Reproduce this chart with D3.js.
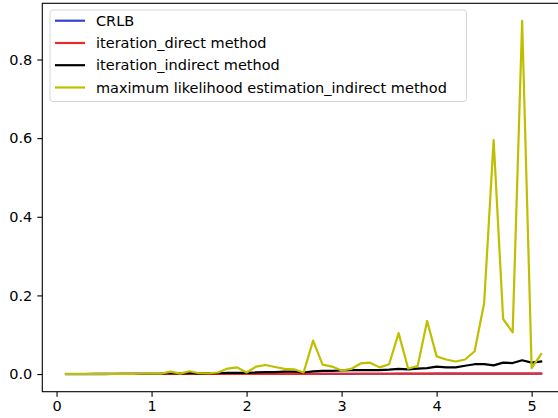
<!DOCTYPE html>
<html><head><meta charset="utf-8">
<script src="https://cdn.jsdelivr.net/npm/d3@7"></script>
<style>body{margin:0;background:#fff}svg{display:block}text{font-family:"DejaVu Sans",sans-serif}</style>
</head><body><svg id="c" width="558" height="418"></svg>
<script>
const xValues = [0.1,0.2,0.3,0.4,0.5,0.6,0.7,0.8,0.9,1.0,1.1,1.2,1.3,1.4,1.5,1.6,1.7,1.8,1.9,2.0,2.1,2.2,2.3,2.4,2.5,2.6,2.7,2.8,2.9,3.0,3.1,3.2,3.3,3.4,3.5,3.6,3.7,3.8,3.9,4.0,4.1,4.2,4.3,4.4,4.5,4.6,4.7,4.8,4.9,5.0,5.1];
const crlb = [0.0000,0.0000,0.0000,0.0000,0.0000,0.0001,0.0001,0.0001,0.0001,0.0001,0.0001,0.0002,0.0002,0.0002,0.0002,0.0003,0.0003,0.0003,0.0003,0.0004,0.0004,0.0004,0.0004,0.0005,0.0005,0.0005,0.0005,0.0006,0.0006,0.0006,0.0006,0.0007,0.0007,0.0007,0.0007,0.0008,0.0008,0.0008,0.0008,0.0009,0.0009,0.0009,0.0009,0.0009,0.0010,0.0010,0.0010,0.0010,0.0010,0.0011,0.0011];
const iterDirect = [0.0001,0.0001,0.0001,0.0001,0.0001,0.0001,0.0002,0.0002,0.0002,0.0002,0.0002,0.0003,0.0003,0.0003,0.0003,0.0004,0.0004,0.0004,0.0004,0.0005,0.0005,0.0005,0.0005,0.0006,0.0006,0.0006,0.0006,0.0007,0.0007,0.0007,0.0007,0.0008,0.0008,0.0008,0.0008,0.0009,0.0009,0.0009,0.0009,0.0010,0.0010,0.0010,0.0010,0.0010,0.0011,0.0011,0.0011,0.0011,0.0011,0.0012,0.0012];
const iterIndirect = [0.0001,0.0001,0.0001,0.0002,0.0002,0.0002,0.0003,0.0003,0.0004,0.0005,0.0010,0.0030,0.0010,0.0030,0.0010,0.0020,0.0020,0.0030,0.0030,0.0030,0.0040,0.0050,0.0050,0.0060,0.0060,0.0040,0.0070,0.0080,0.0080,0.0090,0.0100,0.0100,0.0100,0.0100,0.0110,0.0130,0.0120,0.0140,0.0150,0.0190,0.0170,0.0170,0.0210,0.0250,0.0250,0.0220,0.0290,0.0280,0.0350,0.0290,0.0320];
const mleIndirect = [0.0002,0.0002,0.0002,0.0003,0.0003,0.0003,0.0004,0.0005,0.0008,0.0010,0.0010,0.0060,0.0010,0.0070,0.0020,0.0020,0.0040,0.0140,0.0170,0.0040,0.0190,0.0230,0.0180,0.0130,0.0120,0.0040,0.0850,0.0240,0.0190,0.0090,0.0130,0.0270,0.0290,0.0170,0.0250,0.1040,0.0140,0.0200,0.1350,0.0450,0.0370,0.0320,0.0370,0.0580,0.1800,0.5950,0.1400,0.1060,0.8980,0.0150,0.0510];
const seriesNames = ["CRLB","iteration_direct method","iteration_indirect method","maximum likelihood estimation_indirect method"];
const seriesColors = ["#3344cc","#e82a2a","#000000","#bfbf00"];
const xTicks = [0,1,2,3,4,5];
const yTicks = [0.0,0.2,0.4,0.6,0.8];

const svg = d3.select("#c");
const L = 42.3, R = 564.9, T = 3.3, B = 391.7;
const x = d3.scaleLinear().domain([-0.15, 5.35]).range([L, R]);
const y = d3.scaleLinear().domain([-0.0449, 0.9429]).range([B, T]);
const fs = "14.5px";

const allSeries = [crlb, iterDirect, iterIndirect, mleIndirect];
const line = d3.line().x((d,i)=>x(xValues[i])).y(d=>y(d));
allSeries.forEach((s,k)=>{
  svg.append("path").datum(s).attr("d", line)
    .attr("fill","none").attr("stroke", seriesColors[k]).attr("stroke-width",2.2)
    .attr("stroke-linejoin","round").attr("stroke-linecap","square");
});

// axes
const xa = svg.append("g").attr("transform",`translate(0,${B})`)
  .call(d3.axisBottom(x).tickValues(xTicks).tickFormat(d3.format("d")).tickSize(5).tickPadding(4.5).tickSizeOuter(0));
const ya = svg.append("g").attr("transform",`translate(${L},0)`)
  .call(d3.axisLeft(y).tickValues(yTicks).tickFormat(d3.format(".1f")).tickSize(5).tickPadding(5).tickSizeOuter(0));
[xa,ya].forEach(a=>{
  a.select(".domain").remove();
  a.selectAll(".tick line").attr("stroke","#000").attr("stroke-width",1.1);
  a.selectAll(".tick text").attr("fill","#000").style("font-size",fs).style("font-family","DejaVu Sans");
});

// frame
svg.append("rect").attr("x",L).attr("y",T).attr("width",R-L).attr("height",B-T)
  .attr("fill","none").attr("stroke","#000").attr("stroke-width",1.1);

// legend
const lg = svg.append("g");
lg.append("rect").attr("x",50).attr("y",10).attr("width",416.5).attr("height",91.5)
  .attr("rx",3).attr("fill","#fff").attr("fill-opacity",0.8).attr("stroke","#d6d6d6").attr("stroke-width",1);
const rowY = [20.7, 43.0, 65.2, 87.5];
seriesNames.forEach((n,k)=>{
  lg.append("line").attr("x1",55).attr("x2",85).attr("y1",rowY[k]).attr("y2",rowY[k])
    .attr("stroke",seriesColors[k]).attr("stroke-width",2.2);
  lg.append("text").attr("x",96).attr("y",rowY[k]).attr("dy","0.36em")
    .style("font-size",fs).attr("fill","#000").text(n);
});
</script></body></html>
